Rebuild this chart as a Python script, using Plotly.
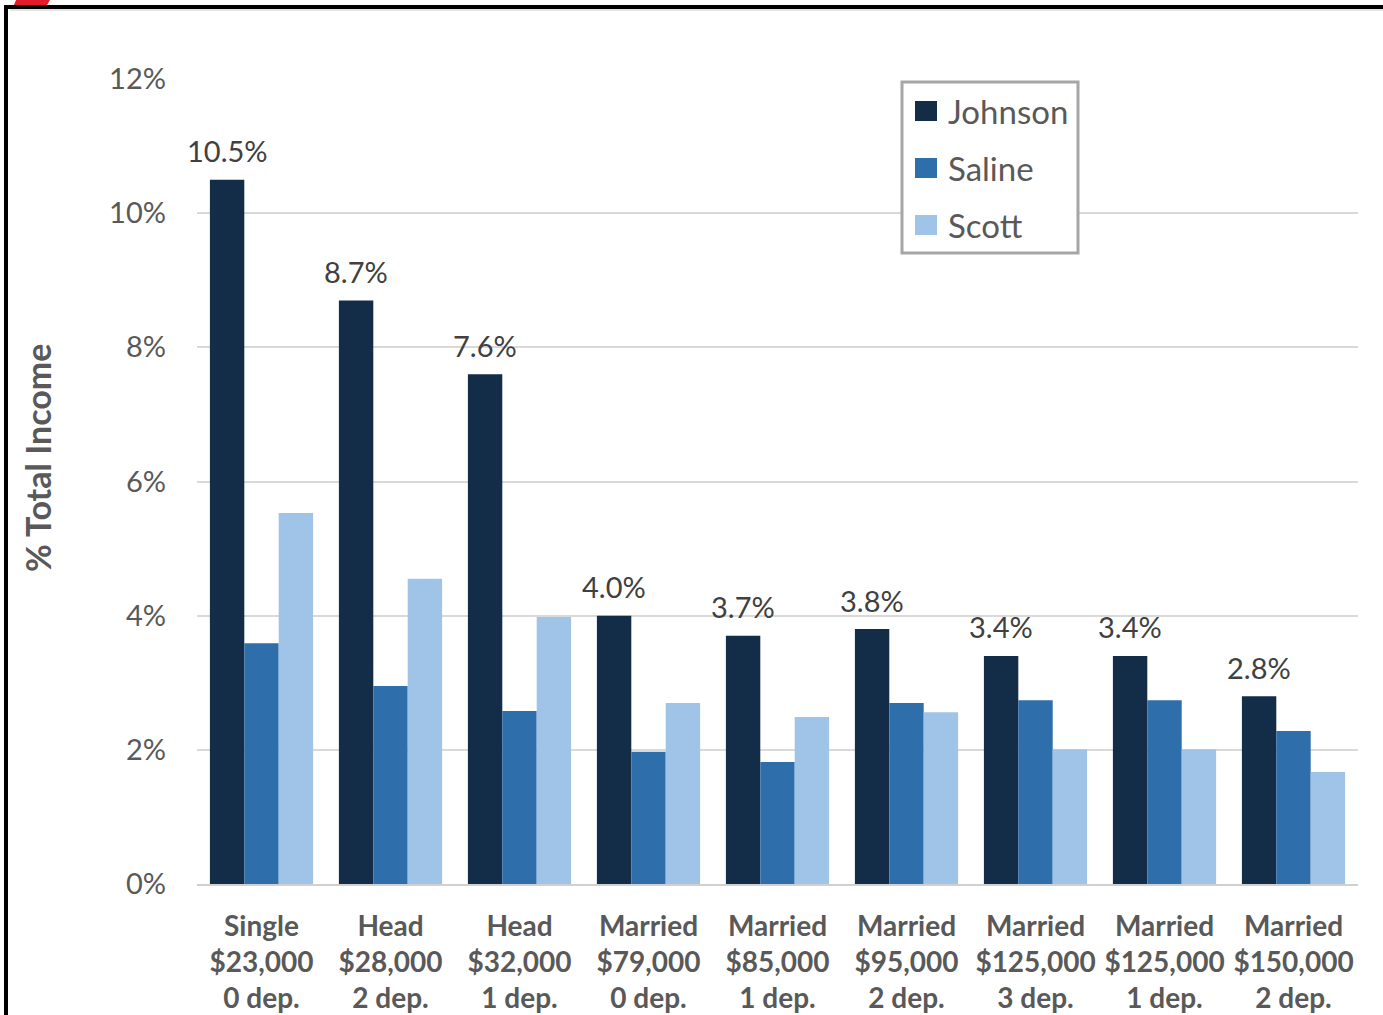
import plotly.graph_objects as go

# Household profiles (filing status / income / dependents)
categories = [
    "Single<br>$23,000<br>0 dep.",
    "Head<br>$28,000<br>2 dep.",
    "Head<br>$32,000<br>1 dep.",
    "Married<br>$79,000<br>0 dep.",
    "Married<br>$85,000<br>1 dep.",
    "Married<br>$95,000<br>2 dep.",
    "Married<br>$125,000<br>3 dep.",
    "Married<br>$125,000<br>1 dep.",
    "Married<br>$150,000<br>2 dep.",
]

series_names = ["Johnson", "Saline", "Scott"]
johnson = [10.5, 8.7, 7.6, 4.0, 3.7, 3.8, 3.4, 3.4, 2.8]
saline = [3.59, 2.95, 2.58, 1.97, 1.82, 2.70, 2.74, 2.74, 2.28]
scott = [5.53, 4.55, 3.98, 2.70, 2.49, 2.56, 2.01, 2.01, 1.67]

y_ticks = [0, 2, 4, 6, 8, 10, 12]
y_tick_labels = ["0%", "2%", "4%", "6%", "8%", "10%", "12%"]

colors = ["#132d48", "#2e6eab", "#9fc4e7"]
values = [johnson, saline, scott]

FONT = "Lato"
GREY = "#595959"

x_idx = list(range(len(categories)))
GROUP_WIDTH = 0.8          # 1 - bargap
BAR_W = GROUP_WIDTH / len(series_names)

fig = go.Figure()
for name, vals, col in zip(series_names, values, colors):
    fig.add_trace(go.Bar(x=x_idx, y=vals, name=name, marker=dict(color=col, line=dict(width=0)),
                         showlegend=False))

# Plot area in pixels
L, R, T, B = 197, 25, 79, 131
W, H = 1383, 1015
pw, ph = W - L - R, H - T - B


def px(x):
    return (x - L) / pw


def py(y):
    return (H - B - y) / ph


shapes = []
annotations = []

# Value labels above the Johnson bars (first bar in each group)
for i, v in zip(x_idx, johnson):
    annotations.append(dict(x=i - BAR_W, y=v, xref="x", yref="y", text=f"{v:.1f}%", showarrow=False,
                            xanchor="center", yanchor="middle", yshift=29,
                            font=dict(family=FONT, size=29, color="#404040")))

# Outer frame: heavy black top and left edges, thin grey under the top
shapes.append(dict(type="line", xref="paper", yref="paper", x0=px(4), x1=px(1383), y0=py(7), y1=py(7),
                   line=dict(color="black", width=4)))
shapes.append(dict(type="line", xref="paper", yref="paper", x0=px(10), x1=px(1383), y0=py(10), y1=py(10),
                   line=dict(color="#c8c8c8", width=1)))
shapes.append(dict(type="line", xref="paper", yref="paper", x0=px(6), x1=px(6), y0=py(5), y1=py(1015),
                   line=dict(color="black", width=4)))
# Red corner tab
shapes.append(dict(type="path", xref="paper", yref="paper",
                   path=f"M {px(16)},{py(0)} L {px(50)},{py(0)} L {px(47)},{py(5)} L {px(14)},{py(5)} Z",
                   fillcolor="#e31b2d", line=dict(width=0)))

# Legend box
shapes.append(dict(type="rect", xref="paper", yref="paper", x0=px(902), x1=px(1078), y0=py(82), y1=py(253),
                   line=dict(color="#a6a6a6", width=3), fillcolor="white"))
for k, (name, col) in enumerate(zip(series_names, colors)):
    cy = 111 + 57 * k
    shapes.append(dict(type="rect", xref="paper", yref="paper", x0=px(915), x1=px(937),
                       y0=py(cy - 10), y1=py(cy + 10), line=dict(width=0), fillcolor=col))
    annotations.append(dict(xref="paper", yref="paper", x=px(946), y=py(cy), text=name, showarrow=False,
                            xanchor="left", yanchor="middle", font=dict(family=FONT, size=33, color=GREY)))

# Y-axis title
annotations.append(dict(xref="paper", yref="paper", x=px(37), y=py(458), text="<b>% Total Income</b>",
                        showarrow=False, textangle=-90, xanchor="center", yanchor="middle",
                        font=dict(family=FONT, size=34, color=GREY)))

fig.update_layout(
    width=W, height=H,
    margin=dict(l=L, r=R, t=T, b=B, pad=0, autoexpand=False),
    paper_bgcolor="white", plot_bgcolor="white",
    barmode="group", bargap=1 - GROUP_WIDTH, bargroupgap=0,
    shapes=shapes, annotations=annotations,
    showlegend=False,
    font=dict(family=FONT, color=GREY),
)
fig.update_xaxes(
    tickmode="array", tickvals=x_idx, ticktext=[f"<b>{c}</b>" for c in categories],
    tickfont=dict(family=FONT, size=28, color=GREY),
    range=[-0.5, len(categories) - 0.5],
    showline=True, linecolor="#d0d0d0", linewidth=2, ticks="", showgrid=False,
    ticklabelstandoff=16, automargin=False,
)
fig.update_yaxes(
    range=[0, 12], tickmode="array", tickvals=y_ticks, ticktext=y_tick_labels,
    tickfont=dict(family=FONT, size=29, color=GREY),
    showgrid=True, gridcolor="#d9d9d9", gridwidth=1.5, zeroline=False,
    ticks="", ticklabelstandoff=30, automargin=False,
)

fig.write_html("out.html")
